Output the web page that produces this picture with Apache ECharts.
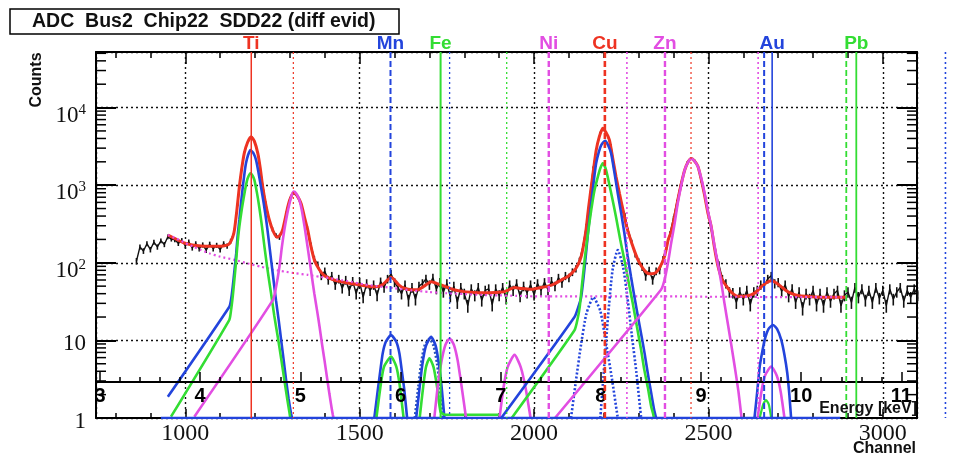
<!DOCTYPE html>
<html>
<head>
<meta charset="utf-8">
<script src="https://cdn.jsdelivr.net/npm/echarts@6/dist/echarts.min.js"></script>
<style>
  html, body { margin: 0; padding: 0; background: #fff; }
  #chart { width: 958px; height: 456px; }
</style>
</head>
<body>
<div id="chart"></div>
<script>
// ---------------- spectrum data ----------------
// Measured histogram: bin centres start at histStart, one bin every histStep channels
const histStart = 860, histStep = 10;
const histCounts = [
  105,160,142,176,148,184,160,192,172,216,
  202,198,178,194,166,186,156,176,152,170,
  146,174,152,168,148,176,164,190,250,560,
  1500,2700,3700,4200,3500,2350,1150,600,370,270,
  225,212,274,440,680,790,730,590,400,280,
  170,112,94,68,78,60,68,52,62,47,
  60,44,58,40,56,36,54,44,52,38,
  57,48,62,72,56,48,40,52,33,48,
  34,50,54,62,52,64,46,56,42,54,
  37,50,31,48,40,28,46,38,48,33,
  44,46,29,46,38,48,35,52,44,54,
  37,50,41,52,39,54,44,56,45,58,
  50,64,55,68,64,76,84,106,160,300,
  700,1700,3100,4800,5300,4400,3300,1700,950,560,
  420,260,185,128,104,88,67,80,60,78,
  80,112,160,240,380,620,1000,1500,2000,2250,
  2100,1750,1100,700,420,240,140,95,62,54,
  42,41,31,42,34,44,29,42,44,52,
  50,62,68,54,56,43,52,37,46,31,
  42,26,40,34,44,29,40,28,42,32,
  40,44,28,38,42,31,48,36,46,33,
  44,31,48,35,44,28,46,34,42,48,
  32,44,36,46,38
];

// Total fit [channel, counts]
const fitTotal = [
  [950,228],[975,200],[997,180],[1020,170],[1045,165],[1070,163],[1093,163],[1112,166],[1126,175],
  [1136,215],[1141,265],[1148,480],[1155,955],[1162,1650],[1169,2570],[1179,3600],[1189,4220],
  [1198,3700],[1208,2570],[1215,1650],[1222,955],[1231,560],[1241,356],[1252,255],[1263,213],
  [1271,225],[1279,265],[1287,380],[1294,528],[1302,690],[1311,800],[1320,740],[1332,580],
  [1341,400],[1351,265],[1360,165],[1370,109],[1384,82],[1399,68],[1418,62],[1437,58],[1475,54],
  [1510,51],[1542,49],[1565,52],[1580,60],[1590,65],[1600,60],[1612,52],[1628,47],[1650,45],
  [1667,45],[1685,50],[1705,57],[1722,54],[1743,50],[1770,45],[1800,42.5],[1830,41.5],[1858,41],
  [1890,41.5],[1915,42.5],[1930,45.5],[1944,48],[1965,46.5],[1992,45.5],[2020,48],[2040,50],
  [2060,54],[2078,60],[2098,67],[2116,80],[2127,96],[2135,120],[2142,170],[2149,265],[2156,500],
  [2164,955],[2171,1650],[2178,2800],[2187,4200],[2197,5400],[2206,4800],[2216,3830],[2225,2300],
  [2235,1290],[2245,780],[2255,480],[2264,310],[2274,217],[2286,150],[2298,109],[2312,85],
  [2326,73],[2338,72],[2350,75],[2362,90],[2374,120],[2385,200],[2393,250],[2403,390],[2412,640],
  [2422,1040],[2432,1570],[2442,2000],[2451,2200],[2460,2050],[2470,1740],[2480,1150],[2489,740],
  [2498,450],[2508,292],[2517,160],[2527,92],[2540,60],[2556,47],[2570,40],[2584,37],[2600,37],
  [2622,38.5],[2637,42],[2651,49],[2665,55],[2680,58.6],[2695,55],[2709,49],[2722,44],[2737,40.4],
  [2760,37.5],[2795,36.6],[2843,36],[2895,36]
];

// Smooth background under the peaks
const fitBackground = [
  [950,228],[975,205],[1000,180],[1025,160],[1045,146],[1070,132],[1100,120],[1141,109],[1180,98],
  [1217,89],[1250,82],[1284,77],[1318,73],[1351,70],[1385,66],[1418,63],[1450,59.5],[1475,57],
  [1510,53],[1550,50],[1600,47],[1650,44],[1700,42],[1750,40.5],[1800,39.5],[1850,38.5],[1900,38],
  [1950,37.5],[2000,37],[2100,37],[2200,37],[2300,37],[2400,37],[2500,36.5],[2600,36.5],
  [2700,36],[2800,36],[2895,36]
];

// Peak components [channel, counts]
const tiKaMain = [
  [950,1.88],[1126,27],[1131,33],[1136,49],[1141,80],[1146,132],
  [1150,220],[1155,356],[1160,600],[1165,955],[1170,1450],[1174,1910],[1180,2450],[1187,2830],
  [1195,2600],[1203,2100],[1210,1450],[1217,955],[1225,580],[1232,356],[1239,200],[1246,109],
  [1253,60],[1260,33],[1268,18],[1275,10],[1282,5.6],[1289,3.1],[1296,1.8],[1303,1.15],[1306,1]
];
const tiKaSecond = [
  [959,1.04],[1126,18.3],[1131,24],[1136,36.6],[1141,62],
  [1146,109],[1150,180],[1155,292],[1162,490],[1168,711],[1174,1000],[1179,1230],[1187,1420],
  [1193,1330],[1198,1170],[1205,820],[1212,528],[1220,290],[1227,160],[1236,80],[1246,40],
  [1255,21],[1265,11.2],[1275,5.8],[1284,3.1],[1292,1.8],[1299,1.15],[1301,1]
];
const tiKb = [
  [1026,1.04],[1251,33],[1260,48],[1270,89],[1277,160],[1284,265],[1292,420],[1299,585],[1305,740],[1311,825],
  [1318,780],[1327,646],[1334,480],[1342,292],[1349,180],[1356,109],[1363,66],[1370,40],[1378,24],
  [1385,15],[1392,9],[1399,5.6],[1406,3.4],[1413,2.08],[1419,1.4],[1423,1.1],[1425,1]
];
const mnKaMain = [[1542,1],[1552,2.3],[1559,4],[1566,6.8],[1575,9.6],[1590,11.7],[1605,9.6],[1614,6.8],[1621,4],[1628,2.3],[1636,1]];
const mnKaSecond = [[1548,1],[1561,2.8],[1570,4.6],[1590,6.2],[1605,4.6],[1614,2.8],[1626,1]];
const feKaMain = [[1662,1],[1672,2.5],[1680,5],[1690,8.5],[1705,11.1],[1718,8.5],[1727,5],[1735,2.5],[1743,1]];
const feKaShape = [[1658,1],[1668,2.5],[1676,5],[1686,8.5],[1700,10.5],[1712,8.5],[1722,5],[1730,2.5],[1738,1]];
const feKaSecond = [[1672,1],[1682,2.5],[1690,4.5],[1700,5.9],[1712,4.5],[1722,2.5],[1732,1.2],[1745,1.1],[1900,1.1]];
const feKb = [[1714,1],[1724,2.6],[1735,5.5],[1746,8.8],[1758,10.6],[1770,8.8],[1781,5.5],[1792,2.6],[1805,1]];
const escapePeak = [[1901,1],[1912,2.4],[1924,4.5],[1944,6.5],[1962,4.5],[1976,2.4],[1990,1]];
const cuKaMain = [
  [1906,1],[2116,20],[2127,27],[2135,36],
  [2142,65],[2149,132],[2156,280],[2164,585],[2171,1100],[2178,1910],[2186,2700],[2193,3300],
  [2204,3740],[2212,3300],[2221,2570],[2230,1500],[2240,787],[2250,430],[2259,240],[2268,125],
  [2278,66],[2288,36],[2298,20.2],[2308,11.5],[2317,6.8],[2326,3.8],[2336,2.08],[2344,1.3],[2350,1]
];
const cuKaSecond = [
  [1936,1],[2116,13.5],[2125,19],[2131,27],[2137,50],
  [2145,109],[2154,230],[2164,480],[2173,850],[2183,1290],[2190,1650],[2197,1910],[2204,1700],
  [2211,1290],[2223,720],[2235,390],[2247,200],[2259,109],[2271,57],[2283,30],[2295,15],[2307,7.5],
  [2316,4.2],[2326,2.5],[2336,1.4],[2341,1.15],[2344,1]
];
const cuShoulderA = [[2106,1],[2120,3],[2135,9],[2150,22],[2170,36],[2190,24],[2205,10],[2222,3.5],[2240,1]];
const cuShoulderB = [[2190,1],[2200,4],[2212,20],[2225,80],[2240,146],[2255,90],[2268,35],[2280,12],[2293,4],[2307,1]];
const cuKb = [
  [2060,1],[2364,45],[2374,60],
  [2384,100],[2393,178],[2403,320],[2412,585],[2422,1000],[2432,1570],[2442,2000],[2451,2200],
  [2460,2050],[2470,1730],[2480,1200],[2489,787],[2498,480],[2508,292],[2517,170],[2527,98],
  [2537,55],[2546,30],[2556,16],[2566,8.5],[2576,4.4],[2586,2.2],[2595,1]
];
const auMain = [[2632,1],[2640,2.2],[2647,4.6],[2654,7],[2661,10.1],[2672,14],[2685,15.8],[2697,14],[2709,10.1],[2718,6.5],[2726,3.8],[2732,2],[2737,1]];
const auSecond = [[2641,1],[2652,2.2],[2662,3.5],[2680,4.6],[2696,3.5],[2707,2.2],[2718,1]];
const auThird = [[2647,1],[2657,1.5],[2665,1.7],[2673,1.5],[2680,1]];
const fitFloor = [[930,1],[2878,1]];

// Emission lines (keV) and element names at the alpha lines
const lineEnergies = [4.51, 4.93, 5.90, 6.49, 6.40, 7.06, 7.48, 8.26, 8.04, 8.90, 8.64, 9.57, 9.71, 9.63, 11.44, 10.55, 10.45];
const lineNames    = ['Ti', '',   'Mn', '',   'Fe', '',   'Ni', '',   'Cu', '',   'Zn', '',   'Au', '',   '',    'Pb', ''];

// Axis ranges
const chanMin = 744, chanMax = 3098;
const energyMin = 2.96, energyMax = 11.156;
const countMin = 1, countMax = 52000;

// ---------------- styling ----------------
const RED = '#ee3322', BLUE = '#2344dc', GREEN = '#33dd33', MAG = '#e24ee2';
const lineStyles = [
  [RED, 'solid', 1.5], [RED, 'dotted', 1.2],
  [BLUE, 'dashed', 2], [BLUE, 'dotted', 1.3],
  [GREEN, 'solid', 2], [GREEN, 'dotted', 1.3],
  [MAG, 'dashed', 2.4], [MAG, 'dotted', 1.6],
  [RED, 'dashed', 2.6], [RED, 'dotted', 1.2],
  [MAG, 'dashed', 2.4], [MAG, 'dotted', 1.6],
  [BLUE, 'solid', 1.6], [BLUE, 'dashed', 2], [BLUE, 'dotted', 1.6],
  [GREEN, 'solid', 1.8], [GREEN, 'dashed', 1.8]
];
const dashOf = t => t === 'dashed' ? [6, 3] : t === 'dotted' ? [2, 3] : null;

const SERIF = '"Liberation Serif", "DejaVu Serif", serif';
const SANS = '"Liberation Sans", Arial, sans-serif';

// minor ticks 2..9 of each decade on the log axis
const logMinor = [];
for (let d = 0; d <= 4; d++) for (let k = 2; k <= 9; k++) {
  const v = k * Math.pow(10, d);
  if (v < countMax) logMinor.push([chanMin, v]);
}

const histData = histCounts.map((c, i) => [histStart + i * histStep, c]);

function curve(data, color, width, dash, z) {
  return {
    type: 'line', data, xAxisIndex: 0, yAxisIndex: 0,
    showSymbol: false, symbol: 'none', smooth: 0.2,
    lineStyle: { color, width, type: dash || 'solid' },
    silent: true, animation: false, z: z || 2
  };
}

function logLabel(v) {
  const e = Math.log10(v), r = Math.round(e);
  if (Math.abs(e - r) > 1e-6) return '';
  if (r === 0) return '{p|1}';
  if (r === 1) return '{p|10}';
  return '{b|10}{s|' + r + '}';
}

const chart = echarts.init(document.getElementById('chart'), null, { renderer: 'canvas' });

const option = {
  animation: false,
  backgroundColor: '#fff',
  grid: { left: 96, right: 41, top: 52, bottom: 38, containLabel: false },
  xAxis: [
    { // channel axis
      type: 'value', position: 'bottom', min: chanMin, max: chanMax,
      minInterval: 500, maxInterval: 500, splitNumber: 5,
      axisLine: { show: true, onZero: false, lineStyle: { color: '#000', width: 2 } },
      axisTick: { show: true, inside: true, length: 9, lineStyle: { color: '#000', width: 1.5 } },
      minorTick: { show: true, splitNumber: 5, length: 5, lineStyle: { color: '#000', width: 1.5 } },
      axisLabel: {
        margin: 4, color: '#111', fontFamily: SERIF, fontSize: 24,
        formatter: v => (Math.abs(v % 500) < 1e-6 ? String(v) : '')
      },
      splitLine: { show: true, lineStyle: { color: '#111', width: 1.4, type: [2, 3] } }
    },
    { // mirrored channel ticks on top
      type: 'value', position: 'top', min: chanMin, max: chanMax,
      minInterval: 500, maxInterval: 500, splitNumber: 5,
      axisLine: { show: true, onZero: false, lineStyle: { color: '#000', width: 2 } },
      axisTick: { show: true, inside: true, length: 12, lineStyle: { color: '#000', width: 1.5 } },
      minorTick: { show: true, splitNumber: 5, length: 6, lineStyle: { color: '#000', width: 1.5 } },
      axisLabel: { show: false }, splitLine: { show: false }
    },
    { // energy axis drawn inside the frame
      type: 'value', position: 'bottom', offset: -36, min: energyMin, max: energyMax,
      minInterval: 1, maxInterval: 1, splitNumber: 8, z: 3,
      axisLine: { show: true, onZero: false, lineStyle: { color: '#000', width: 2 } },
      axisTick: { show: true, inside: true, length: 10, lineStyle: { color: '#000', width: 1.5 } },
      minorTick: { show: true, splitNumber: 5, length: 5, lineStyle: { color: '#000', width: 1.5 } },
      axisLabel: {
        margin: 4, color: '#000', fontFamily: SANS, fontWeight: 'bold', fontSize: 20,
        formatter: v => (Math.abs(v - Math.round(v)) < 1e-6 ? String(Math.round(v)) : '')
      },
      splitLine: { show: false }
    }
  ],
  yAxis: [
    {
      type: 'log', logBase: 10, min: countMin, max: countMax, position: 'left',
      axisLine: { show: true, lineStyle: { color: '#000', width: 2 } },
      axisTick: { show: true, inside: true, length: 20, lineStyle: { color: '#000', width: 2 } },
      minorTick: { show: false },
      axisLabel: {
        margin: 10, color: '#111', formatter: logLabel,
        rich: {
          p: { fontFamily: SERIF, fontSize: 23, padding: [8, 0, 0, 0] },
          b: { fontFamily: SERIF, fontSize: 23, padding: [16, 0, 0, 0] },
          s: { fontFamily: SERIF, fontSize: 15, padding: [4, 0, 0, 0] }
        }
      },
      splitLine: { show: true, lineStyle: { color: '#111', width: 1.4, type: [2, 3] } }
    },
    {
      type: 'log', logBase: 10, min: countMin, max: countMax, position: 'right',
      axisLine: { show: true, lineStyle: { color: '#000', width: 2 } },
      axisTick: { show: true, inside: true, length: 20, lineStyle: { color: '#000', width: 2 } },
      axisLabel: { show: false }, splitLine: { show: false }
    }
  ],
  graphic: [
    { type: 'rect', shape: { x: 10, y: 9, width: 389, height: 25 },
      style: { fill: '#fff', stroke: '#000', lineWidth: 1.5 }, z: 10 },
    { type: 'text', x: 32, y: 22, z: 11,
      style: { text: 'ADC  Bus2  Chip22  SDD22 (diff evid)', font: 'bold 19.5px ' + SANS,
               fill: '#111', verticalAlign: 'middle' } },
    { type: 'text', x: 37, y: 80, rotation: Math.PI / 2, z: 11,
      style: { text: 'Counts', font: 'bold 16px ' + SANS, fill: '#111', align: 'center', verticalAlign: 'middle' } },
    { type: 'text', x: 917, y: 409, z: 11,
      style: { text: 'Energy [keV]', font: 'bold 16px ' + SANS, fill: '#111', align: 'right', verticalAlign: 'middle' } },
    { type: 'text', x: 916, y: 449, z: 11,
      style: { text: 'Channel', font: 'bold 16px ' + SANS, fill: '#111', align: 'right', verticalAlign: 'middle' } }
  ],
  series: [
    { // measured spectrum
      type: 'line', data: histData, showSymbol: false, symbol: 'none',
      lineStyle: { color: '#111', width: 1.4 }, silent: true, z: 2
    },
    { // statistical error bars of the spectrum (sqrt N)
      type: 'custom', xAxisIndex: 0, yAxisIndex: 0, data: histData, silent: true, z: 2,
      renderItem: (params, api) => {
        const ch = api.value(0), n = api.value(1), s = Math.sqrt(n);
        const hi = api.coord([ch, n + s]);
        const lo = api.coord([ch, Math.max(n - s, 1)]);
        return { type: 'line', shape: { x1: hi[0], y1: hi[1], x2: lo[0], y2: lo[1] },
                 style: { stroke: '#111', lineWidth: 1.6 } };
      }
    },
    curve(fitTotal, RED, 3),
    curve(fitBackground, MAG, 2.2, [2, 3]),
    curve(tiKaMain, BLUE, 2.6),
    curve(tiKaSecond, GREEN, 2.6),
    curve(tiKb, MAG, 2.6),
    curve(mnKaMain, BLUE, 2.6),
    curve(mnKaSecond, GREEN, 2.6),
    curve(feKaShape, '#2a56b8', 2.6, [2, 2]),
    curve(feKaMain, BLUE, 2.6),
    curve(feKaSecond, GREEN, 2.6),
    curve(feKb, MAG, 2.6),
    curve(escapePeak, MAG, 2.6),
    curve(cuKaMain, BLUE, 2.6),
    curve(cuKaSecond, GREEN, 2.6),
    curve(cuShoulderA, BLUE, 2.6, [2, 2]),
    curve(cuShoulderB, BLUE, 2.6, [2, 2]),
    curve(cuKb, MAG, 2.6),
    curve(auMain, BLUE, 2.6),
    curve(auSecond, MAG, 2.6),
    curve(auThird, GREEN, 2.2),
    curve(fitFloor, BLUE, 2.6),
    { // minor ticks of the log axis, both sides of the frame
      type: 'custom', xAxisIndex: 0, yAxisIndex: 0, data: logMinor, clip: false, silent: true, z: 5,
      renderItem: (params, api) => {
        const l = api.coord([chanMin, api.value(1)]);
        const r = api.coord([chanMax, api.value(1)]);
        return { type: 'group', children: [
          { type: 'line', shape: { x1: l[0], y1: l[1], x2: l[0] + 10, y2: l[1] }, style: { stroke: '#000', lineWidth: 1.5 } },
          { type: 'line', shape: { x1: r[0], y1: r[1], x2: r[0] - 10, y2: r[1] }, style: { stroke: '#000', lineWidth: 1.5 } }
        ] };
      }
    },
    { // emission lines with element names
      type: 'custom', xAxisIndex: 2, yAxisIndex: 0, clip: false, silent: true, z: 6,
      data: lineEnergies.map(e => [e, countMin]),
      renderItem: (params, api) => {
        const i = params.dataIndex;
        const e = api.value(0);
        const top = api.coord([e, countMax]);
        const bot = api.coord([e, countMin]);
        const st = lineStyles[i];
        const children = [{
          type: 'line', shape: { x1: top[0], y1: top[1], x2: bot[0], y2: bot[1] },
          style: { stroke: st[0], lineWidth: st[2], lineDash: dashOf(st[1]) }
        }];
        if (lineNames[i]) {
          children.push({
            type: 'text', x: top[0], y: top[1] - 8,
            style: { text: lineNames[i], font: 'bold 19px ' + SANS, fill: st[0], align: 'center', verticalAlign: 'middle' }
          });
        }
        return { type: 'group', children };
      }
    }
  ]
};

chart.setOption(option);
</script>
</body>
</html>
